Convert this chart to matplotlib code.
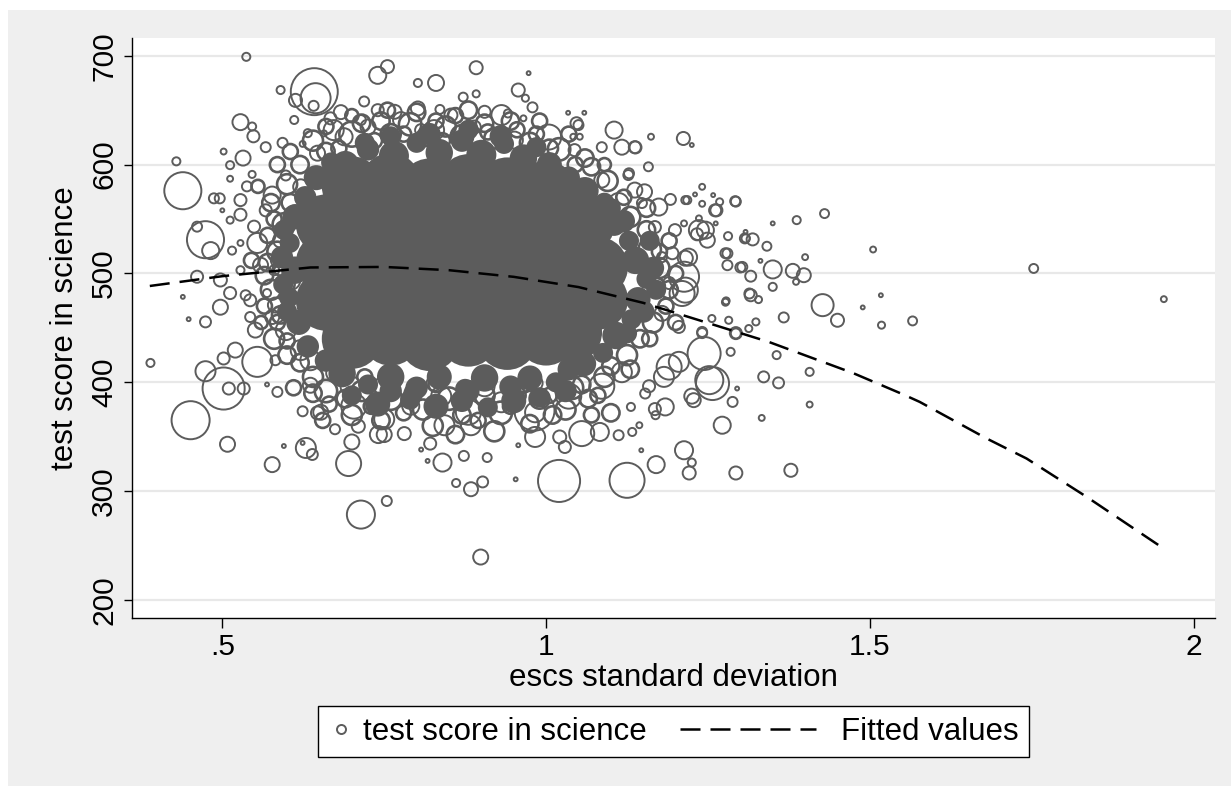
"""
Scatter of science test score against escs standard deviation
(weighted hollow circles) with a quadratic fitted line, Stata look.
"""

import matplotlib
matplotlib.use("Agg")
import matplotlib.pyplot as plt
import numpy as np
from matplotlib.legend_handler import HandlerLine2D
from matplotlib.lines import Line2D
from matplotlib.patches import Rectangle

plt.rcParams["font.family"] = ["Liberation Sans", "DejaVu Sans"]

GRAY = "#5c5c5c"

# --- sparse / edge observations (escs sd, score, weight) ---
left_x = [0.537, 0.642, 0.644, 0.641, 0.613, 0.590, 0.740, 0.755, 0.802, 0.830,
          0.892, 0.957, 0.973, 0.528, 0.546, 0.548, 0.567, 0.593, 0.624, 0.502,
          0.429, 0.439, 0.532, 0.512, 0.546, 0.512, 0.487, 0.496, 0.538, 0.577,
          0.474, 0.482, 0.461, 0.461, 0.439, 0.448, 0.474, 0.500, 0.512, 0.528,
          0.549, 0.528, 0.515, 0.497, 0.512, 0.497, 0.528, 0.536, 0.543, 0.569,
          0.577, 0.585, 0.598, 0.554, 0.580, 0.719, 0.740, 0.766, 0.802, 0.836,
          0.872, 0.892, 0.931, 0.905, 0.941, 0.965, 0.688, 0.667, 0.657, 0.611]
left_y = [699, 667, 661, 654, 659, 668.5, 682, 690, 675, 675,
          689, 668.5, 684, 639, 635, 626, 616, 620, 619, 612,
          603, 576, 606, 599.5, 591, 587, 569, 569, 580, 572,
          531, 521, 543, 497, 478.5, 458, 455.5, 558, 549, 554,
          543, 528, 521, 494, 482, 469, 503, 480, 460, 482,
          460, 512, 515, 528, 503, 658, 650, 648.5, 651.6, 650.7,
          662, 665, 645.5, 648.5, 647, 642.5, 625.6, 642.5, 628.7, 641]
left_w = [2.6, 88, 36, 4, 6.8, 2.6, 11.6, 6.8, 2.6, 10.2,
          6.8, 6.8, 0.6, 10.2, 2.6, 5.8, 4, 4, 1.4, 1.4,
          2.6, 54.8, 9, 2.6, 2, 1.4, 4, 4, 4, 11.6,
          54.8, 11.6, 4, 5.8, 0.6, 0.6, 4.8, 0.6, 2, 5.8,
          5.8, 1.4, 2.6, 6.8, 5.8, 9, 2.6, 4, 4, 2.6,
          7.8, 6.8, 2.6, 16, 4, 4, 5.8, 7.8, 7.8, 3.2,
          3.2, 2, 16, 5.8, 2.6, 1.4, 11.6, 5.8, 1.4, 2.6]

upper_right_x = [0.968, 0.979, 1.034, 1.047, 1.059, 1.042, 1.052, 1.105, 1.162, 1.212,
                 1.225, 1.158, 1.138, 1.127, 1.241, 1.230, 1.258, 1.218, 1.241, 1.268,
                 1.263, 1.292, 1.174, 1.192, 1.152, 1.213, 1.236, 1.246, 1.233, 1.262,
                 1.281, 1.308, 1.319, 1.307, 1.341, 1.350, 1.387, 1.430, 1.505, 1.280,
                 1.280, 1.300, 1.316, 1.331, 1.350, 1.381, 1.398, 1.400, 1.386, 1.350,
                 1.316, 1.328, 1.278, 1.427, 1.450, 1.489, 1.517, 1.518, 1.367, 1.213,
                 1.210, 1.220]
upper_right_y = [661, 652.6, 647.6, 638, 647.6, 625.6, 625.6, 631.7, 625.6, 624,
                 618, 598, 615.8, 590.4, 579.6, 572.6, 572, 567.4, 564, 565.8,
                 558, 566.4, 561, 568, 575, 546, 550.6, 539.8, 536, 546,
                 534.3, 538.2, 531.3, 532.2, 525, 546, 549, 555, 522, 518.4,
                 507.6, 505.5, 497.5, 511.6, 503.7, 502.4, 498.4, 515, 492.3, 487.7,
                 480, 476, 474.8, 470.9, 457, 468.8, 480, 452.5, 459.6, 497,
                 481.6, 515]
upper_right_w = [2, 4, 0.6, 5.8, 0.6, 1.4, 1.4, 11.6, 1.4, 6.8,
                 0.6, 3.2, 5.8, 4, 1.4, 0.6, 0.6, 2.6, 1.4, 2,
                 5.8, 4, 11.6, 4.8, 9, 1.4, 1.4, 11.6, 5.8, 0.6,
                 2.6, 0.6, 5.8, 4, 3.2, 0.6, 2.6, 3.2, 1.4, 4,
                 4, 4, 4.8, 0.6, 13, 7.8, 7.8, 1.4, 1.4, 2.6,
                 5.8, 2, 2, 19.4, 6.8, 0.6, 0.6, 2, 4, 36,
                 25, 11.6]

lower_right_x = [1.356, 1.407, 1.336, 1.359, 1.407, 1.333, 1.295, 1.288, 1.272, 1.257,
                 1.244, 1.285, 1.241, 1.293, 1.313, 1.324, 1.256, 1.282, 1.205, 1.182,
                 1.228, 1.184, 1.153, 1.169, 1.131, 1.144, 1.147, 1.213, 1.225, 1.221,
                 1.170, 1.293, 1.378, 1.125, 1.020, 0.953, 0.983, 1.029, 1.055, 1.083,
                 1.112, 1.133, 0.957, 1.021, 0.982, 1.753, 1.954, 1.566]
lower_right_y = [425, 409.6, 405, 399.5, 379.6, 367.3, 394.3, 382, 360.6, 398.9,
                 426.5, 428, 446.3, 444.9, 449.4, 455.5, 458.6, 457, 418.8, 405,
                 383.6, 377.4, 389.7, 369.8, 377.4, 360.6, 337.6, 337.6, 326.3, 316.7,
                 324.4, 316.7, 319.2, 310, 309.4, 310.9, 349.8, 340.6, 352.9, 354.4,
                 351.4, 354.4, 342.2, 349.8, 374, 504.6, 476.4, 456.4]
lower_right_w = [2.6, 2.6, 4.8, 4.8, 1.4, 1.4, 0.6, 4, 11.6, 43.6,
                 43.6, 2.6, 4, 4, 2, 2, 2, 2, 16, 16,
                 7.8, 11.6, 4, 2.6, 2.6, 1.4, 0.6, 13, 2.6, 6.8,
                 11.6, 6.8, 6.8, 49, 70.6, 0.6, 16, 5.8, 25, 13,
                 4, 2.6, 0.6, 6.8, 64, 3.2, 1.4, 3.2]

lower_left_x = [0.389, 0.451, 0.502, 0.474, 0.510, 0.533, 0.508, 0.577, 0.595, 0.629,
                0.639, 0.624, 0.585, 0.569, 0.554, 0.502, 0.624, 0.647, 0.674, 0.700,
                0.695, 0.710, 0.714, 0.754, 0.741, 0.750, 0.781, 0.821, 0.807, 0.840,
                0.817, 0.873, 0.909, 0.861, 0.884, 0.902, 0.899, 0.884, 0.843]
lower_left_y = [417.8, 365.2, 394.3, 410.2, 394.3, 394.3, 343.1, 324.4, 341.5, 339.7,
                333.7, 344.3, 391.2, 398, 418.8, 421.9, 373.4, 371.9, 356.9, 345.2,
                325.4, 359.7, 278.5, 291, 352, 352, 352.9, 343.7, 338.2, 326.3,
                327.8, 332.4, 330.9, 307.5, 301.8, 308.5, 239.5, 360.6, 360.6]
lower_left_w = [2.6, 57.8, 70.6, 16, 5.8, 5.8, 9, 9, 0.6, 16,
                4.8, 0.6, 4, 0.6, 36, 5.8, 4, 6.8, 4, 9,
                25, 6.8, 31.4, 4, 11.6, 9, 6.8, 5.8, 0.6, 13,
                0.6, 4, 3.2, 2.6, 7.8, 4.8, 9, 16, 16]

rim_x = [0.672, 0.725, 0.827, 0.889, 0.951, 1.004, 1.050, 1.044, 1.086, 1.117,
         1.137, 1.128, 1.086, 1.137, 1.112, 1.148, 1.215, 1.261, 1.293, 1.168,
         1.199, 1.236, 1.249, 1.195, 1.215, 1.179, 1.277, 1.215, 1.190, 1.277,
         1.303, 1.314, 1.308, 1.179, 1.205, 1.241, 1.293, 1.190, 1.252, 1.159,
         1.225, 1.168, 1.086, 1.117, 1.035, 0.983, 0.931, 0.880, 0.838, 0.791,
         0.750, 0.703, 0.652, 0.698, 0.750, 0.827, 0.905, 0.983, 0.636, 0.672,
         0.647, 0.632, 0.621,
         0.598, 0.613, 0.590, 0.605, 0.582, 0.598, 0.621, 0.567, 0.559, 0.543,
         0.551, 0.528, 0.520, 0.636, 0.582, 0.683, 0.714, 0.776, 0.807, 0.853,
         0.884, 0.931, 0.760]
rim_y = [631.7, 634.5, 631.7, 634.5, 622.5, 625.3, 636.3, 613.3, 616, 616,
         616, 592, 585.8, 576.6, 564.7, 564.7, 567.4, 558, 566, 542.6,
         539.8, 539.8, 530.6, 518.6, 514, 515, 518.6, 484.7, 491.2, 473.6,
         506, 481.6, 532.2, 463.3, 450.9, 445.2, 445.2, 414, 402, 396.4,
         387.3, 375.4, 396.4, 409.3, 387.3, 372.5, 381.7, 372.5, 387.3, 378.1,
         366.2, 378.1, 372.5, 396.4, 396.4, 399.2, 396.4, 399.2, 420.3, 408.4,
         610.5, 628.9, 579.6,
         590, 553.6, 530.6, 494, 471, 448, 429.6, 558, 507.6, 475.4,
         448, 567.4, 429.6, 397.3, 420.3, 648.2, 640.9, 640.9, 631.7, 645.5,
         631.7, 627.1, 622.5]
rim_w = [16, 9, 16, 6.8, 11.6, 25, 4, 5.8, 4, 9,
         5.8, 4, 9, 9, 16, 4, 2.6, 5.8, 4, 5.8,
         5.8, 16, 9, 5.8, 9, 4, 4, 25, 5.8, 2,
         4, 4, 2.6, 9, 5.8, 4, 5.8, 25, 31.4, 5.8,
         9, 5.8, 25, 16, 25, 16, 16, 25, 16, 11.6,
         16, 25, 9, 16, 16, 9, 16, 9, 16, 9,
         9, 2.6, 9,
         4, 16, 9, 16, 9, 16, 16, 5.8, 9, 5.8,
         9, 5.8, 9, 9, 4, 7.8, 4, 10.2, 5.8, 6.8,
         5.8, 9, 5.8]

# crowded band of circles hugging the solid centre
band_x = [0.640, 0.660, 0.700, 0.745, 0.760, 0.790, 0.815, 0.845, 0.870, 0.905,
          0.920, 0.955, 0.975, 1.020, 1.035, 1.060, 0.735, 0.860, 0.700, 0.990,
          0.585, 0.600, 0.575, 0.595, 0.570, 0.585, 0.565, 0.590, 0.575, 0.590,
          0.565, 0.580, 0.600, 0.560, 0.545, 0.555, 0.605, 0.620,
          1.070, 1.095, 1.120, 1.130, 1.155, 1.160, 1.175, 1.170, 1.185, 1.165,
          1.145, 1.125, 1.100, 1.090, 1.200, 1.190, 1.200,
          0.640, 0.660, 0.690, 0.715, 0.730, 0.760, 0.795, 0.810, 0.850, 0.870,
          0.905, 0.930, 0.955, 0.990, 1.010, 1.040, 1.065, 1.090, 1.070, 0.620,
          0.610,
          0.665, 0.700, 0.745, 0.780, 0.825, 0.860, 0.895, 0.920, 0.945, 0.975,
          1.005, 1.030, 1.055, 1.080, 1.100, 0.720, 0.830, 0.965, 0.640, 0.655,
          0.680, 0.715, 0.755, 0.800, 0.830, 0.880, 0.910, 0.945, 0.985, 1.005,
          0.780, 0.840, 0.660, 1.045,
          1.175, 1.155, 1.190, 1.160, 1.130,
          0.580, 0.605, 0.570, 0.600, 0.585, 0.600]
band_y = [622, 635, 628, 640, 628, 637, 625, 635, 626, 638,
          624, 632, 620, 614, 628, 606, 622, 645, 645, 640,
          600, 582, 565, 545, 535, 520, 498, 505, 485, 462,
          470, 440, 438, 455, 512, 580, 612, 600,
          598, 585, 570, 552, 540, 522, 505, 488, 470, 455,
          440, 425, 415, 600, 500, 530, 455,
          405, 392, 385, 392, 378, 385, 390, 375, 385, 370,
          388, 372, 388, 385, 370, 395, 385, 405, 370, 418,
          395,
          380, 370, 365, 372, 360, 352, 365, 355, 378, 362,
          388, 375, 398, 388, 372, 405, 398, 398, 390, 365,
          615, 638, 650, 648, 640, 650, 630, 640, 628, 615,
          628, 622, 612, 600,
          520, 560, 485, 440, 412,
          550, 565, 510, 490, 455, 425]
band_w = [16, 9, 25, 12, 16, 20, 12, 16, 20, 12,
          16, 9, 16, 20, 9, 12, 9, 9, 6.8, 9,
          9, 16, 12, 20, 9, 16, 12, 9, 16, 12,
          9, 16, 9, 6.8, 9, 6.8, 9, 12,
          12, 16, 9, 16, 12, 20, 16, 12, 9, 16,
          12, 16, 12, 6.8, 9, 9, 9,
          16, 20, 12, 16, 9, 20, 12, 16, 20, 12,
          16, 20, 12, 16, 12, 20, 12, 16, 9, 12,
          9,
          9, 16, 12, 9, 16, 12, 9, 16, 9, 12,
          9, 16, 12, 9, 12, 9, 9, 9, 12, 9,
          9, 12, 9, 12, 9, 12, 9, 12, 9, 12,
          9, 9, 12, 9,
          9, 12, 12, 9, 12,
          9, 12, 12, 9, 9, 12]

# --- dense centre of the cloud, where thousands of circles merge into solid grey ---
core_x = [0.70, 0.76, 0.82, 0.88, 0.94, 1.00,
          0.66, 0.72, 0.78, 0.84, 0.90, 0.96, 1.02, 1.06,
          0.66, 0.72, 0.78, 0.84, 0.90, 0.96, 1.02, 1.08,
          0.66, 0.72, 0.78, 0.84, 0.90, 0.96, 1.02, 1.08,
          0.70, 0.76, 0.82, 0.88, 0.94, 1.00, 1.04,
          0.690, 0.725, 0.765, 0.800, 0.835, 0.870, 0.900, 0.935, 0.965, 1.005, 1.035,
          0.645, 0.628, 0.668,
          0.612, 0.604, 0.612, 0.603, 0.618, 0.632,
          1.060, 1.090, 1.105, 1.128, 1.138, 1.155, 1.142, 1.132, 1.108, 1.088, 1.058,
          0.660, 0.685, 0.725, 0.760, 0.800, 0.835, 0.875, 0.905, 0.945, 0.975, 1.015, 1.035,
          0.700, 0.740, 0.790, 0.830, 0.870, 0.910, 0.950, 0.990, 1.030, 0.760, 0.880,
          1.165, 1.170, 1.160, 1.150, 1.125, 1.100, 1.120,
          0.760, 0.820, 0.880, 0.930, 0.985, 0.720,
          0.595, 0.592, 0.594, 0.600]
core_y = [580, 583, 578, 582, 579, 576,
          545, 548, 543, 547, 544, 548, 542, 546,
          510, 513, 508, 511, 507, 512, 509, 506,
          475, 478, 473, 477, 474, 478, 472, 476,
          440, 443, 438, 442, 439, 443, 446,
          600, 614, 608, 620, 611, 622, 609, 619, 606, 600, 588,
          588, 570, 602,
          552, 528, 503, 478, 455, 433,
          576, 565, 546, 530, 512, 495, 476, 458, 443, 427, 417,
          420, 408, 398, 405, 395, 405, 394, 404, 396, 404, 400, 412,
          388, 380, 384, 378, 383, 377, 383, 386, 392, 392, 392,
          505, 485, 530, 465, 445, 560, 548,
          626, 628, 632, 626, 616, 620,
          540, 515, 490, 465]
core_w = [144] * 37 + [30, 20, 36, 16, 30, 20, 36, 16, 30, 25, 20,
                       25, 20, 16,
                       25, 16, 30, 16, 25, 20,
                       30, 16, 25, 16, 30, 16, 25, 16, 30, 16, 25,
                       20, 30, 16, 30, 20, 25, 16, 30, 20, 25, 16, 20,
                       16, 25, 16, 25, 20, 16, 25, 16, 20, 20, 20,
                       20, 16, 16, 20, 16, 16, 20,
                       16, 20, 16, 20, 16, 16,
                       16, 20, 16, 16]

# --- fitted values (quadratic fit line) ---
fit_x = [0.388, 0.5, 0.636, 0.75, 0.85, 0.95, 1.05, 1.15, 1.25, 1.344,
         1.474, 1.551, 1.577, 1.68, 1.742, 1.835, 1.954]
fit_y = [488.5, 497.5, 505.5, 506.0, 503.0, 496.9, 487.5, 473.0, 454.5, 437.1,
         408.5, 389.0, 382.0, 348.5, 330.0, 294.7, 247.2]

x_ticks = [0.5, 1, 1.5, 2]
x_tick_labels = [".5", "1", "1.5", "2"]
y_ticks = [200, 300, 400, 500, 600, 700]


class WideDashHandler(HandlerLine2D):
    """Legend line that reaches back into the column gap, like Stata's long key."""

    def create_artists(self, legend, orig_handle, xdescent, ydescent,
                       width, height, fontsize, trans):
        y = (height - ydescent) / 2.0
        line = Line2D([-4.05 * fontsize, 0.4 * width], [y, y])
        self.update_prop(line, orig_handle, legend)
        line.set_transform(trans)
        return [line]


pts_x = np.array(left_x + upper_right_x + lower_right_x + lower_left_x + rim_x)
pts_y = np.array(left_y + upper_right_y + lower_right_y + lower_left_y + rim_y)
pts_w = np.array(left_w + upper_right_w + lower_right_w + lower_left_w + rim_w)

fig = plt.figure(figsize=(12.31, 7.86), dpi=100)
fig.patch.set_facecolor("white")
fig.patches.append(Rectangle((8 / 1231, 0), 1, 1 - 10 / 786, transform=fig.transFigure,
                             facecolor="#efefef", edgecolor="none", zorder=-10))

ax = fig.add_axes([132 / 1231, 1 - 618 / 786, (1215 - 132) / 1231, (618 - 38) / 786])
ax.set_facecolor("white")

ax.scatter(core_x, core_y, s=13 * np.array(core_w), color=GRAY, linewidths=0, zorder=2)
# the crowded band overlaps so much that its rings read heavier
ax.scatter(band_x, band_y, s=13 * np.array(band_w), facecolors="none", edgecolors=GRAY,
           linewidths=1.9, zorder=3)
ax.scatter(pts_x, pts_y, s=13 * pts_w, facecolors="none", edgecolors=GRAY,
           linewidths=1.4, zorder=3)
fit_line, = ax.plot(fit_x, fit_y, color="black", lw=1.8, ls=(0, (8, 4)), zorder=4)

ax.set_xlim(0.3605, 2.033)
ax.set_ylim(183.5, 716.3)
ax.set_xticks(x_ticks)
ax.set_xticklabels(x_tick_labels)
ax.set_yticks(y_ticks)
ax.yaxis.grid(True, color="#e8e8e8", lw=1.6)
ax.set_axisbelow(True)
for side in ("top", "right"):
    ax.spines[side].set_visible(False)
for side in ("left", "bottom"):
    ax.spines[side].set_linewidth(1.0)
ax.tick_params(axis="x", length=7.5, width=1.0, pad=3, labelsize=21.5)
ax.tick_params(axis="y", length=6, width=1.0, pad=4, labelsize=21.5)
plt.setp(ax.get_yticklabels(), rotation=90, va="center")

ax.set_xlabel("escs standard deviation", fontsize=22.5)
ax.set_ylabel("test score in science", fontsize=22.5)
ax.xaxis.label.set_va("center")
ax.yaxis.label.set_va("center")
ax.xaxis.set_label_coords(0.5, -0.104)
ax.yaxis.set_label_coords(-0.062, 0.5)

pt_key = Line2D([], [], ls="none", marker="o", markersize=6.5, mfc="none",
                mec=GRAY, mew=1.4)
leg = fig.legend([pt_key, fit_line], ["test score in science", "Fitted values"],
                 loc="center", bbox_to_anchor=(673.5 / 1231, 1 - 731.5 / 786),
                 ncol=2, fontsize=22.5, frameon=True, fancybox=False,
                 edgecolor="black", framealpha=1, borderpad=0.35,
                 handlelength=0.8, handletextpad=0.3, columnspacing=5.1,
                 handler_map={fit_line: WideDashHandler()})
leg.get_frame().set_linewidth(1.0)

fig.savefig("out.png", dpi=100)
